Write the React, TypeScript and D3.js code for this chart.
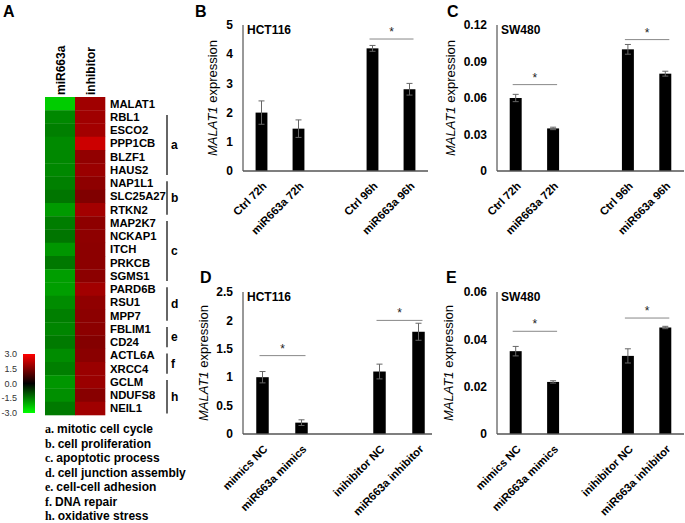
import React from "react";
import * as d3 from "d3";

// ---------- Heatmap data (panel A) ----------
const genes = [
  "MALAT1", "RBL1", "ESCO2", "PPP1CB", "BLZF1", "HAUS2", "NAP1L1", "SLC25A27", "RTKN2",
  "MAP2K7", "NCKAP1", "ITCH", "PRKCB", "SGMS1", "PARD6B", "RSU1", "MPP7", "FBLIM1",
  "CD24", "ACTL6A", "XRCC4", "GCLM", "NDUFS8", "NEIL1",
];
const heatColumns = ["miR663a", "inhibitor"];
const mir663aValues = [
  -2.4, -1.6, -1.49, -1.62, -1.6, -1.6, -1.5, -1.38, -1.81, -1.47, -1.38, -1.76,
  -1.41, -1.86, -1.86, -1.65, -1.49, -1.56, -1.44, -1.65, -1.49, -1.76, -1.68, -1.44,
];
const inhibitorValues = [
  1.88, 1.88, 1.92, 2.4, 1.72, 1.81, 1.67, 1.5, 1.92, 1.67, 1.67, 1.65,
  1.65, 1.65, 1.9, 1.69, 1.65, 1.65, 1.55, 1.62, 1.81, 1.81, 1.6, 1.88,
];
const groupLetters = ["a", "b", "c", "d", "e", "f", "h"];
const groupStart = [1, 6, 9, 14, 17, 19, 21];
const groupEnd = [5, 8, 13, 16, 18, 20, 23];
const groupNames = [
  "mitotic cell cycle", "cell proliferation", "apoptotic process", "cell junction assembly",
  "cell-cell adhesion", "DNA  repair", "oxidative stress",
];
const legendTicks = [3.0, 1.5, 0.0, -1.5, -3.0];

// ---------- Bar chart data ----------
const bCategories = ["Ctrl 72h", "miR663a 72h", "Ctrl 96h", "miR663a 96h"];
const bValues = [2.0, 1.45, 4.2, 2.8];
const bErrors = [0.4, 0.3, 0.1, 0.2];
const bTicks = [0, 1, 2, 3, 4, 5];
const bSig = [[2, 3, 4.52]];

const cCategories = ["Ctrl 72h", "miR663a 72h", "Ctrl 96h", "miR663a 96h"];
const cValues = [0.06, 0.035, 0.1, 0.08];
const cErrors = [0.003, 0.001, 0.004, 0.002];
const cTicks = [0, 0.03, 0.06, 0.09, 0.12];
const cSig = [[0, 1, 0.071], [2, 3, 0.108]];

const dCategories = ["mimics NC", "miR663a mimics", "inihibitor NC", "miR663a inhibitor"];
const dValues = [1.0, 0.2, 1.1, 1.8];
const dErrors = [0.1, 0.05, 0.13, 0.15];
const dTicks = [0, 0.5, 1, 1.5, 2, 2.5];
const dSig = [[0, 1, 1.38], [2, 3, 2.0]];

const eCategories = ["mimics NC", "miR663a mimics", "inihibitor NC", "miR663a inhibitor"];
const eValues = [0.035, 0.022, 0.033, 0.045];
const eErrors = [0.002, 0.0005, 0.003, 0.0005];
const eTicks = [0, 0.02, 0.04, 0.06];
const eSig = [[0, 1, 0.0434], [2, 3, 0.049]];

const FONT = "'Liberation Sans', Arial, sans-serif";
const SERIF = "'Liberation Serif', 'Times New Roman', serif";

function Heatmap() {
  const x0 = 45, x1 = 105, y0 = 97, y1 = 415;
  const xs = d3.scaleBand().domain(heatColumns).range([x0, x1]);
  const ys = d3.scaleBand().domain(genes).range([y0, y1]);
  const color = d3.scaleLinear<string>().domain([-3, 0, 3]).range(["#00ff00", "#000000", "#ff0000"]);
  const cols = [mir663aValues, inhibitorValues];
  const legY = d3.scaleLinear().domain([3, -3]).range([354, 413]);
  const stops = [3, 1.5, 0, -1.5, -3];
  return (
    <g>
      <text x={3} y={17} fontFamily={FONT} fontWeight="bold" fontSize={16}>A</text>
      {heatColumns.map((c, ci) =>
        genes.map((g, gi) => (
          <rect key={c + g} x={xs(c)} y={ys(g)} width={xs.bandwidth() + 0.3} height={ys.bandwidth() + 0.3}
            fill={color(cols[ci][gi])} />
        ))
      )}
      {heatColumns.map((c) => (
        <text key={c} transform={`translate(${(xs(c) as number) + xs.bandwidth() / 2 + 5},95) rotate(-90)`}
          fontFamily={FONT} fontWeight="bold" fontSize={12}>{c}</text>
      ))}
      {genes.map((g) => (
        <text key={g} x={110} y={(ys(g) as number) + ys.bandwidth() / 2} dy="0.36em"
          fontFamily={FONT} fontWeight="bold" fontSize={11.3}>{g}</text>
      ))}
      {groupLetters.map((l, i) => {
        const ya = (ys(genes[groupStart[i]]) as number) + ys.bandwidth() / 2 - 2;
        const yb = (ys(genes[groupEnd[i]]) as number) + ys.bandwidth() / 2 + 5;
        return (
          <g key={l}>
            <line x1={167} x2={167} y1={ya} y2={yb} stroke="#333" strokeWidth={1.5} />
            <text x={171} y={(ya + yb) / 2} dy="0.35em" fontFamily={FONT} fontWeight="bold" fontSize={12}>{l}</text>
          </g>
        );
      })}
      <defs>
        <linearGradient id="hmLegend" x1="0" x2="0" y1="0" y2="1">
          {stops.map((s) => (
            <stop key={s} offset={(legY(s) - 354) / 59} stopColor={color(s)} />
          ))}
        </linearGradient>
      </defs>
      <rect x={23} y={354} width={12} height={59} fill="url(#hmLegend)" />
      {legendTicks.map((t) => (
        <text key={t} x={17} y={legY(t)} dy="0.35em" textAnchor="end" fontFamily={FONT} fontSize={9} fill="#333">
          {t.toFixed(1)}
        </text>
      ))}
      {groupNames.map((n, i) => (
        <text key={n} x={45} y={433 + i * 14.5} fontFamily={FONT} fontWeight="bold" fontSize={12}>
          <tspan fontFamily={SERIF}>{groupLetters[i]}. </tspan>{n}
        </text>
      ))}
    </g>
  );
}

type PanelProps = {
  letter: string; letterX: number; letterY: number;
  title: string;
  categories: string[]; values: number[]; errors: number[];
  ticks: number[]; tickFmt: (v: number) => string;
  sig: number[][];
  xRange: [number, number]; axisEnd: number;
  yRange: [number, number];
  labelX: number;
};

function BarPanel(p: PanelProps) {
  const domain = [p.categories[0], p.categories[1], "__gap__", p.categories[2], p.categories[3]];
  const x = d3.scaleBand().domain(domain).range(p.xRange).paddingInner(0.68).paddingOuter(0.34);
  const yMax = p.ticks[p.ticks.length - 1];
  const y = d3.scaleLinear().domain([0, yMax]).range(p.yRange);
  const ax = p.xRange[0];
  const cx = (c: string) => (x(c) as number) + x.bandwidth() / 2;
  const y0 = y(0);
  return (
    <g fontFamily={FONT}>
      <text x={p.letterX} y={p.letterY} fontWeight="bold" fontSize={16}>{p.letter}</text>
      {p.categories.map((c, i) => (
        <rect key={c} x={x(c)} y={y(p.values[i])} width={x.bandwidth()} height={y0 - y(p.values[i])} fill="#000" />
      ))}
      {p.categories.map((c, i) => {
        const yt = y(p.values[i] + p.errors[i]);
        const yb = y(p.values[i] - p.errors[i]);
        return (
          <g key={c + "e"} stroke="#666" strokeWidth={1}>
            <line x1={cx(c)} x2={cx(c)} y1={yt} y2={yb} />
            <line x1={cx(c) - 3} x2={cx(c) + 3} y1={yt} y2={yt} />
            <line x1={cx(c) - 3} x2={cx(c) + 3} y1={yb} y2={yb} />
          </g>
        );
      })}
      <line x1={ax} x2={ax} y1={y(yMax)} y2={y0} stroke="#333" strokeWidth={1} />
      <line x1={ax} x2={p.axisEnd} y1={y0} y2={y0} stroke="#555" strokeWidth={1.5} />
      {p.ticks.map((t) => (
        <text key={t} x={ax - 10} y={y(t)} dy="0.35em" textAnchor="end" fontWeight="bold" fontSize={12}>
          {p.tickFmt(t)}
        </text>
      ))}
      <text transform={`translate(${p.labelX},${(y(yMax) + y0) / 2}) rotate(-90)`} textAnchor="middle" fontSize={13}>
        <tspan fontStyle="italic">MALAT1</tspan> expression
      </text>
      <text x={ax + 4} y={y(yMax) + 9} fontWeight="bold" fontSize={12}>{p.title}</text>
      {p.categories.map((c) => (
        <text key={c + "l"} transform={`translate(${cx(c) + 3},${y0 + 13}) rotate(-45)`} textAnchor="end"
          dy="0.35em" fontWeight="bold" fontSize={11.2}>{c}</text>
      ))}
      {p.sig.map((s, i) => {
        const xa = cx(p.categories[s[0]]) - 3;
        const xb = cx(p.categories[s[1]]) + 4;
        const ys = y(s[2]);
        return (
          <g key={"s" + i}>
            <line x1={xa} x2={xb} y1={ys} y2={ys} stroke="#888" strokeWidth={1} />
            <text x={(xa + xb) / 2} y={ys - 3} textAnchor="middle" fontSize={12} fill="#222">*</text>
          </g>
        );
      })}
    </g>
  );
}

export default function App() {
  const fmtInt = (v: number) => d3.format("")(v);
  const fmt2 = (v: number) => (v === 0 ? "0" : d3.format(".2f")(v));
  return (
    <svg width={685} height={523} style={{ position: "absolute", left: 0, top: 0, background: "#fff" }}>
      <Heatmap />
      <BarPanel letter="B" letterX={195} letterY={17} title="HCT116" categories={bCategories} values={bValues}
        errors={bErrors} ticks={bTicks} tickFmt={fmtInt} sig={bSig} xRange={[243, 428]} axisEnd={428}
        yRange={[171, 25]} labelX={217} />
      <BarPanel letter="C" letterX={447} letterY={17} title="SW480" categories={cCategories} values={cValues}
        errors={cErrors} ticks={cTicks} tickFmt={fmt2} sig={cSig} xRange={[497, 684]} axisEnd={684}
        yRange={[171, 25]} labelX={455} />
      <BarPanel letter="D" letterX={200} letterY={283} title="HCT116" categories={dCategories} values={dValues}
        errors={dErrors} ticks={dTicks} tickFmt={fmtInt} sig={dSig} xRange={[243, 438]} axisEnd={432}
        yRange={[434, 292]} labelX={208} />
      <BarPanel letter="E" letterX={446} letterY={283} title="SW480" categories={eCategories} values={eValues}
        errors={eErrors} ticks={eTicks} tickFmt={fmt2} sig={eSig} xRange={[497, 684]} axisEnd={684}
        yRange={[434, 292]} labelX={453} />
    </svg>
  );
}
